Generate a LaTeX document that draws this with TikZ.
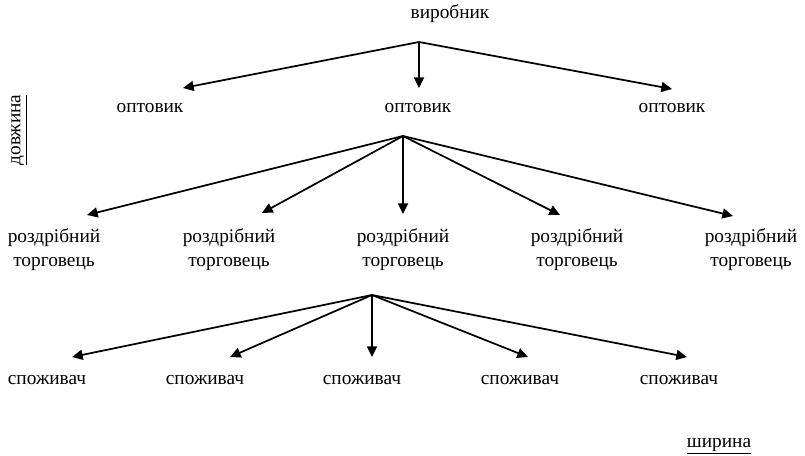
\documentclass[tikz,border=0pt]{standalone}
\usepackage{fontspec}
\setmainfont{Liberation Serif}
\usepackage{tikz}
\usetikzlibrary{arrows.meta}
\tikzset{every picture/.style={line width=0.75pt}}
\tikzset{
  lbl/.style={font=\fontsize{14.5}{18}\selectfont, inner sep=0pt, align=center},
  flow/.style={line width=1.3pt, -{Triangle[length=8pt,width=7.5pt]}}
}

\begin{document}
\begin{tikzpicture}[x=0.75pt,y=0.75pt,yscale=-1,xscale=1]
		%set diagram left start at 0, and has height of 455
		\useasboundingbox (0,0) rectangle (805,455);
		
		% Text Node
		\node[lbl] (vyr) at (450,14) {виробник};
		% Text Node
		\node[lbl] (opt1) at (150,108) {оптовик};
		\node[lbl] (opt2) at (418,108) {оптовик};
		\node[lbl] (opt3) at (672,108) {оптовик};
		% Text Node
		\node[lbl] (rozd1) at (54,250) {роздрібний\\торговець};
		\node[lbl] (rozd2) at (229,250) {роздрібний\\торговець};
		\node[lbl] (rozd3) at (403,250) {роздрібний\\торговець};
		\node[lbl] (rozd4) at (577,250) {роздрібний\\торговець};
		\node[lbl] (rozd5) at (751,250) {роздрібний\\торговець};
		% Text Node
		\node[lbl] (spo1) at (47,380) {споживач};
		\node[lbl] (spo2) at (205,380) {споживач};
		\node[lbl] (spo3) at (362,380) {споживач};
		\node[lbl] (spo4) at (520,380) {споживач};
		\node[lbl] (spo5) at (679,380) {споживач};
		% Text Node
		\node[lbl, rotate=90] (dovz) at (19,130) {\underline{довжина}};
		\node[lbl] (shyr) at (719,446) {\underline{ширина}};
		
		%Branch points
		\coordinate (j1) at (419,42);
		\coordinate (j2) at (403,136);
		\coordinate (j3) at (372,295);
		%Arrow ends
		\coordinate (e1a) at (183,88);
		\coordinate (e1b) at (419,88);
		\coordinate (e1c) at (672,89);
		\coordinate (e2a) at (87,215);
		\coordinate (e2b) at (262,213);
		\coordinate (e2c) at (403,214);
		\coordinate (e2d) at (560,215);
		\coordinate (e2e) at (733,216);
		\coordinate (e3a) at (72,357);
		\coordinate (e3b) at (230,357);
		\coordinate (e3c) at (372,357);
		\coordinate (e3d) at (528,357);
		\coordinate (e3e) at (687,357);
		
		%Straight Lines
		\draw[flow] (j1) -- (e1a);
		\draw[flow] (j1) -- (e1b);
		\draw[flow] (j1) -- (e1c);
		%Straight Lines
		\draw[flow] (j2) -- (e2a);
		\draw[flow] (j2) -- (e2b);
		\draw[flow] (j2) -- (e2c);
		\draw[flow] (j2) -- (e2d);
		\draw[flow] (j2) -- (e2e);
		%Straight Lines
		\draw[flow] (j3) -- (e3a);
		\draw[flow] (j3) -- (e3b);
		\draw[flow] (j3) -- (e3c);
		\draw[flow] (j3) -- (e3d);
		\draw[flow] (j3) -- (e3e);
		
\end{tikzpicture}
\end{document}
